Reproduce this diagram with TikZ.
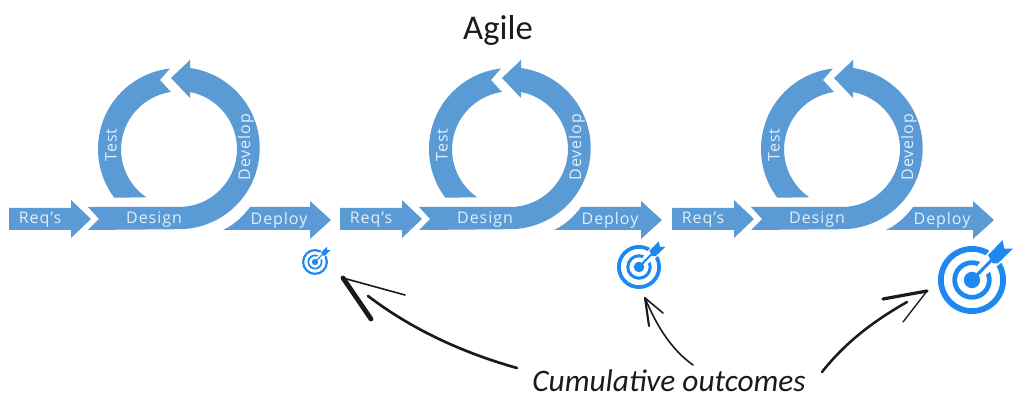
\documentclass[tikz,border=0pt]{standalone}
\usepackage{fontspec}
\usepackage{xcolor}
\usetikzlibrary{arrows.meta,positioning}
\newfontfamily\labelfont[LetterSpace=6]{Open Sans}
\newfontfamily\handfont{Carlito}
\definecolor{bandblue}{HTML}{5B9BD5}
\definecolor{goalblue}{HTML}{1E88F0}
\definecolor{labelwhite}{HTML}{E3EEF8}
\definecolor{inkblack}{HTML}{1A1A1A}

\begin{document}
\begin{tikzpicture}[
  x=0.75pt, y=-0.75pt,
  band/.style={fill=bandblue},
  lab/.style={inner sep=0pt, text=labelwhite, font=\labelfont\fontsize{12}{14}\selectfont},
  hand/.style={inner sep=0pt, text=inkblack, font=\handfont\itshape\fontsize{23.5}{27}\selectfont},
  ink/.style={draw=inkblack, line cap=round, line join=round},
  target/.pic={
    \fill[goalblue, even odd rule] (0,0) circle[radius=1] (0,0) circle[radius=.83]
      (0,0) circle[radius=.58] (0,0) circle[radius=.44];
    \fill[white] (-.06,-.14) -- (.66,-1.05) -- (1.05,-.66) -- (.14,.06) -- cycle;
    \fill[goalblue] (0,0) circle[radius=.24];
    \fill[goalblue] (-.05,-.02) -- (.55,-.62) -- (.61,-.56) -- (.02,.05) -- cycle;
    \fill[goalblue] (.47,-.73) -- (.9,-1.17) -- (.95,-.92) -- (1.2,-.92) -- (.76,-.49) -- (.61,-.49) -- cycle;
  }
]
\useasboundingbox (0,0) rectangle (1024,409);
\foreach \dx/\n in {0/1, 331/2, 663/3} {
  \begin{scope}[shift={(\dx,0)}]
    \fill[band] (9,208) -- (71,208) -- (71,200) -- (91,219) -- (71,238) -- (71,230) -- (9,230) -- cycle;
    \fill[band] (88,207) -- (179,207) arc[start angle=90, end angle=-79, radius=58]
      -- (190,98) -- (171,78) -- (190,60) -- (190,68)
      arc[start angle=-82, end angle=90, radius=81] -- (88,230) -- (99,219) -- cycle;
    \fill[band] (179,149) ++(143:81) arc[start angle=143, end angle=263.6, radius=81]
      -- (160,80) -- (171,92) arc[start angle=262, end angle=124.5, radius=58] -- cycle;
    \fill[band] (223,230) .. controls (236,224) and (245,214) .. (250,207)
      -- (310,207) -- (310,201) -- (331,220) -- (310,239) -- (310,230) -- cycle;
    \node[lab] (req\n) at (40,220) {Req’s};
    \node[lab] (design\n) at (154,220) {Design};
    \node[lab] (deploy\n) at (279,220) {Deploy};
    \node[lab, rotate=90] (test\n) at (111,145) {Test};
    \node[lab, rotate=90] (develop\n) at (246,147) {Develop};
  \end{scope}
}
\pic[scale=13] at (315,262) {target};
\pic[scale=22] at (639,267) {target};
\pic[scale=34] at (972,280) {target};
\node[hand, font=\handfont\fontsize{26}{30}\selectfont] (agile) at (498,30) {Agile};
\node[hand] (outcomes) at (669,381) {Cumulative outcomes};
\coordinate (s1) at (517,368);
\coordinate (t1) at (343,278);
\coordinate (b1) at (368,296);
\coordinate (s2) at (693,365);
\coordinate (t2) at (645,298);
\coordinate (s3) at (822,372);
\coordinate (t3) at (927,291);
\draw[ink, line width=2pt] (s1) .. controls (460,352) and (410,328) .. (b1);
\draw[ink, line width=1.2pt] (t1) -- (405,295);
\draw[ink, line width=3.6pt] (t1) -- (371,319);
\draw[ink, line width=1.2pt] (s2) .. controls (672,350) and (657,327) .. (t2);
\draw[ink, line width=1.2pt] (t2) -- (663,313);
\draw[ink, line width=1.6pt] (t2) -- (649,326);
\draw[ink, line width=1.9pt] (s3) .. controls (845,343) and (872,322) .. (907,302);
\draw[ink, line width=2.4pt] (t3) -- (883,299);
\draw[ink, line width=1pt] (t3) -- (903,322);
\end{tikzpicture}
\end{document}
